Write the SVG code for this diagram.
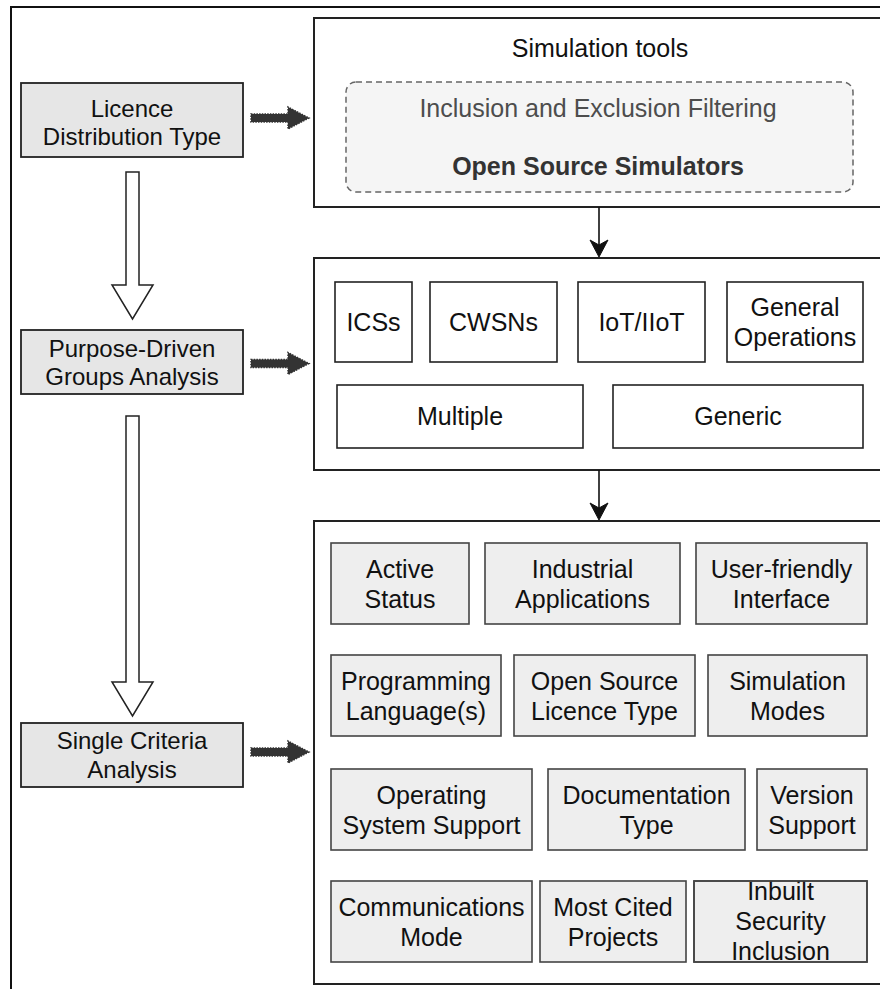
<svg xmlns="http://www.w3.org/2000/svg" width="880" height="989" viewBox="0 0 880 989">
<style>
text{font-family:"Liberation Sans",Arial,Helvetica,sans-serif;text-anchor:middle;fill:#111}
.l{font-size:24px}
.t{font-size:25px}
.left{fill:#e6e6e6;stroke:#222;stroke-width:1.8}
.panel{fill:#fff;stroke:#222;stroke-width:2}
.wb{fill:#fff;stroke:#222;stroke-width:1.6}
.gb{fill:#eeeeee;stroke:#444;stroke-width:1.6}
.hollow{fill:#fff;stroke:#222;stroke-width:1.5}
.fat{fill:#333;stroke:#333;stroke-width:1.5;stroke-dasharray:1.5 1.2}
.conn{stroke:#111;stroke-width:1.6;fill:none}
.head{fill:#111;stroke:#111;stroke-width:1}
</style>
<rect width="880" height="989" fill="#fff"/>
<path d="M11,989 L11,7 L880,7" fill="none" stroke="#111" stroke-width="2"/>

<g id="licence">
<rect class="left" x="21" y="83" width="222" height="74"/>
<text class="l" x="132" y="117">Licence</text>
<text class="l" x="132" y="145">Distribution Type</text>
</g>
<g id="purpose">
<rect class="left" x="21" y="330" width="222" height="64"/>
<text class="l" x="132" y="357">Purpose-Driven</text>
<text class="l" x="132" y="385">Groups Analysis</text>
</g>
<g id="single">
<rect class="left" x="21" y="723" width="222" height="64"/>
<text class="l" x="132" y="749">Single Criteria</text>
<text class="l" x="132" y="778">Analysis</text>
</g>

<g id="simtools">
<rect class="panel" x="314" y="18" width="580" height="189"/>
<text class="t" x="600" y="57">Simulation tools</text>
<g id="filtering">
<rect x="346" y="82" width="507" height="110" rx="10" fill="#f5f5f5" stroke="#666" stroke-width="1.5" stroke-dasharray="6 4"/>
<text class="t" x="598" y="117" style="fill:#4d4d4d">Inclusion and Exclusion Filtering</text>
<text class="t" x="598" y="175" style="fill:#333;font-weight:bold">Open Source Simulators</text>
</g>
</g>

<g id="groups">
<rect class="panel" x="314" y="258" width="580" height="212"/>
<g id="icss"><rect class="wb" x="335" y="282" width="77" height="80"/><text class="t" x="373.5" y="331">ICSs</text></g>
<g id="cwsns"><rect class="wb" x="430" y="282" width="127" height="80"/><text class="t" x="493.5" y="331">CWSNs</text></g>
<g id="iot"><rect class="wb" x="578" y="282" width="127" height="80"/><text class="t" x="641.5" y="331">IoT/IIoT</text></g>
<g id="general"><rect class="wb" x="727" y="282" width="136" height="80"/><text class="t" x="795" y="316">General</text><text class="t" x="795" y="346">Operations</text></g>
<g id="multiple"><rect class="wb" x="337" y="385" width="246" height="63"/><text class="t" x="460" y="425">Multiple</text></g>
<g id="generic"><rect class="wb" x="613" y="385" width="250" height="63"/><text class="t" x="738" y="425">Generic</text></g>
</g>

<g id="criteria">
<rect class="panel" x="314" y="521" width="580" height="463"/>
<g id="active"><rect class="gb" x="331" y="543" width="138" height="81"/><text class="t" x="400" y="578">Active</text><text class="t" x="400" y="608">Status</text></g>
<g id="industrial"><rect class="gb" x="485" y="543" width="195" height="81"/><text class="t" x="582.5" y="578">Industrial</text><text class="t" x="582.5" y="608">Applications</text></g>
<g id="userfriendly"><rect class="gb" x="696" y="543" width="171" height="81"/><text class="t" x="781.5" y="578">User-friendly</text><text class="t" x="781.5" y="608">Interface</text></g>

<g id="programming"><rect class="gb" x="331" y="655" width="170" height="81"/><text class="t" x="416" y="690">Programming</text><text class="t" x="416" y="720">Language(s)</text></g>
<g id="oslicence"><rect class="gb" x="514" y="655" width="181" height="81"/><text class="t" x="604.5" y="690">Open Source</text><text class="t" x="604.5" y="720">Licence Type</text></g>
<g id="simmodes"><rect class="gb" x="708" y="655" width="159" height="81"/><text class="t" x="787.5" y="690">Simulation</text><text class="t" x="787.5" y="720">Modes</text></g>

<g id="ossupport"><rect class="gb" x="331" y="769" width="201" height="81"/><text class="t" x="431.5" y="804">Operating</text><text class="t" x="431.5" y="834">System Support</text></g>
<g id="doctype"><rect class="gb" x="548" y="769" width="197" height="81"/><text class="t" x="646.5" y="804">Documentation</text><text class="t" x="646.5" y="834">Type</text></g>
<g id="version"><rect class="gb" x="757" y="769" width="110" height="81"/><text class="t" x="812" y="804">Version</text><text class="t" x="812" y="834">Support</text></g>

<g id="comms"><rect class="gb" x="331" y="881" width="201" height="81"/><text class="t" x="431.5" y="916">Communications</text><text class="t" x="431.5" y="946">Mode</text></g>
<g id="cited"><rect class="gb" x="540" y="881" width="146" height="81"/><text class="t" x="613" y="916">Most Cited</text><text class="t" x="613" y="946">Projects</text></g>
<g id="inbuilt"><rect class="gb" x="694" y="881" width="173" height="81"/><text class="t" x="780.5" y="900">Inbuilt</text><text class="t" x="780.5" y="930">Security</text><text class="t" x="780.5" y="960">Inclusion</text><rect x="694" y="881" width="173" height="81" fill="none" stroke="#444" stroke-width="1.6"/></g>
</g>

<g id="connectors">
<path class="hollow" d="M126,172 L139,172 L139,285 L153,285 L132.5,319 L112,285 L126,285 Z"/>
<path class="hollow" d="M126,416 L139,416 L139,682 L153,682 L132.5,716 L112,682 L126,682 Z"/>
<path class="fat" d="M251,114 L288,114 L288,107 L309,118 L288,129 L288,122 L251,122 Z"/>
<path class="fat" d="M251,359.5 L288,359.5 L288,352.5 L309,363.5 L288,374.5 L288,367.5 L251,367.5 Z"/>
<path class="fat" d="M251,748 L288,748 L288,741 L309,752 L288,763 L288,756 L251,756 Z"/>
<line class="conn" x1="599" y1="207" x2="599" y2="246"/>
<path class="head" d="M590,240 L599,257 L608,240 L599,245 Z"/>
<line class="conn" x1="599" y1="470" x2="599" y2="509"/>
<path class="head" d="M590,503 L599,520 L608,503 L599,508 Z"/>
</g>
</svg>
